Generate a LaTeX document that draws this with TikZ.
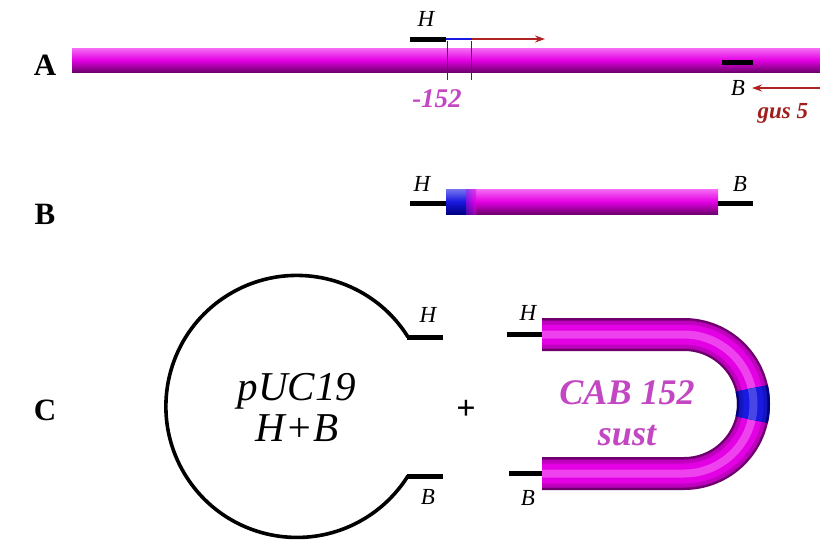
\documentclass[tikz,border=0pt]{standalone}
\usepackage{fontspec}
\setmainfont{Liberation Serif}
\usetikzlibrary{arrows.meta}
\definecolor{mag}{RGB}{228,0,228}
\definecolor{magdark}{RGB}{110,0,110}
\definecolor{magmid}{RGB}{190,0,190}
\definecolor{maglight}{RGB}{245,110,245}
\definecolor{bluetube}{RGB}{25,25,225}
\definecolor{bluedark}{RGB}{0,0,130}
\definecolor{arrowred}{RGB}{175,35,35}
\definecolor{txtpurple}{RGB}{195,70,195}
\definecolor{gusred}{RGB}{160,30,30}
\tikzset{
  rowlabel/.style={font=\fontsize{31}{33}\selectfont\bfseries},
  site/.style={font=\fontsize{23}{24}\selectfont\itshape},
  sitebar/.style={line width=5pt,black},
  htube/.style={top color=maglight,bottom color=magdark,middle color=mag},
  primer/.style={draw=arrowred,line width=1.6pt,-{Stealth[length=10pt,width=7pt]}},
  bigtext/.style={font=\fontsize{41}{41}\selectfont\itshape,anchor=base,inner sep=0pt},
  cabtext/.style={font=\fontsize{36}{36}\selectfont\bfseries\itshape,text=txtpurple,anchor=base,inner sep=0pt},
}
\begin{document}
\begin{tikzpicture}[x=1pt,y=-1pt]
\useasboundingbox (0,0) rectangle (820,539);
\fill[white] (0,0) rectangle (820,539);

% ---------- Row A ----------
\node[rowlabel] (labA) at (45,65) {A};
\shade[htube] (72,48) rectangle (822,72);
\draw[bluetube,line width=0.9pt] (447,41) -- (447,80);
\draw[bluetube,line width=0.9pt] (471,41) -- (471,80);
\coordinate (hA1) at (410,39);
\coordinate (hA2) at (446,39);
\coordinate (pA) at (472,39);
\coordinate (pAend) at (545,39);
\draw[sitebar] (hA1) -- (hA2);
\draw[bluetube,line width=2.5pt] (hA2) -- (pA);
\draw[primer] (pA) -- (pAend);
\node[site] (hAlab) at (426,19) {H};
\node[font=\fontsize{27}{28}\selectfont\bfseries\itshape,text=txtpurple] (n152) at (437,99) {-152};
\coordinate (bA1) at (722,62);
\coordinate (bA2) at (753,62);
\draw[sitebar] (bA1) -- (bA2);
\node[site] (bAlab) at (738,88) {B};
\coordinate (gs) at (822,88);
\coordinate (gsend) at (752,88);
\draw[primer] (gs) -- (gsend);
\node[font=\fontsize{23}{24}\selectfont\bfseries\itshape,text=gusred,anchor=west] (gus) at (754,113) {gus 5};

% ---------- Row B ----------
\node[rowlabel] (labB) at (45,214) {B};
\shade[htube] (446,189) rectangle (718,214);
\shade[top color=bluetube!60!white,bottom color=bluedark,middle color=bluetube] (446,189) rectangle (466,214);
\shade[left color=bluetube,right color=mag] (466,189) rectangle (476,214);
\shade[top color=maglight,bottom color=magdark,middle color=mag,opacity=0.5] (466,189) rectangle (476,214);
\draw[sitebar] (410,203) -- (446,203);
\draw[sitebar] (718,203) -- (753,203);
\node[site] (hBlab) at (422,184) {H};
\node[site] (bBlab) at (740,184) {B};

% ---------- Row C ----------
\node[rowlabel] (labC) at (45,410) {C};
% plasmid
\draw[line width=3.6pt] (408,337) arc[start angle=-32,end angle=-328,radius=131];
\draw[sitebar] (407,337) -- (443,337);
\draw[sitebar] (407,476) -- (443,476);
\node[site] (hC1) at (428,315) {H};
\node[site] (bC1) at (428,497) {B};
\node[bigtext] (puc) at (297,400) {pUC19};
\node[bigtext] (hb) at (297,441) {H+B};
\node[font=\fontsize{34}{34}\selectfont\bfseries] (plus) at (466,410) {+};

% U-shaped insert
\def\upath{(542,334.5) -- (684,334.5) arc[start angle=-90,end angle=90,radius=69.5] -- (542,473.5)}
\draw[magdark,line width=33pt] \upath;
\draw[magmid,line width=28pt] \upath;
\draw[mag,line width=20pt] \upath;
\draw[maglight!60!mag,line width=8pt] \upath;
\def\bpath{([shift={(684,404)}]-13:69.5) arc[start angle=-13,end angle=13,radius=69.5]}
\draw[bluedark,line width=33pt] \bpath;
\draw[bluetube!85!black,line width=28pt] \bpath;
\draw[bluetube,line width=20pt] \bpath;
\draw[bluetube!80!white,line width=8pt] \bpath;
\draw[sitebar] (507,334.5) -- (542,334.5);
\draw[sitebar] (509,473.5) -- (542,473.5);
\node[site] (hC2) at (528,313) {H};
\node[site] (bC2) at (528,498) {B};
\node[cabtext] (cab) at (627,404) {CAB 152};
\node[cabtext] (sust) at (627,445) {sust};
\end{tikzpicture}
\end{document}
